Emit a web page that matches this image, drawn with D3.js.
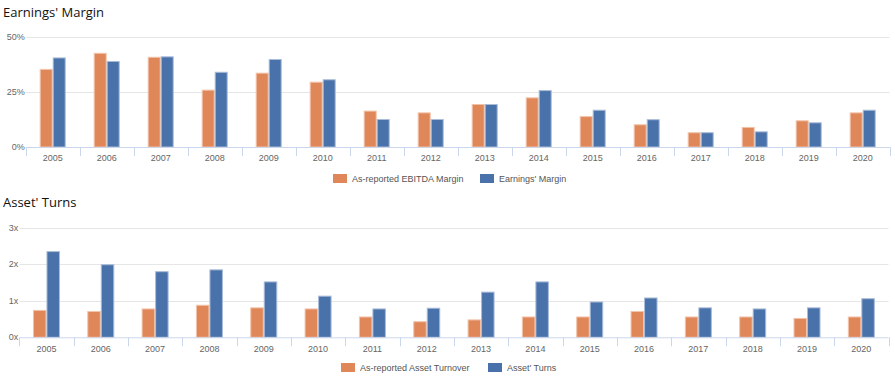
<!DOCTYPE html>
<html>
<head>
<meta charset="utf-8">
<script src="https://cdn.jsdelivr.net/npm/d3@7"></script>
<style>
  html, body { margin: 0; padding: 0; background: #fff; }
  svg { display: block; }
  .title { font-family: "Open Sans", "Noto Sans", sans-serif; font-size: 13px; fill: #111; }
  .lbl { font-family: "Liberation Sans", Arial, sans-serif; font-size: 9px; fill: #666; }
  .leg { font-family: "Liberation Sans", Arial, sans-serif; font-size: 9px; fill: #555; }
</style>
</head>
<body>
<svg id="chart" width="895" height="381"></svg>
<script>
const years = ["2005","2006","2007","2008","2009","2010","2011","2012","2013","2014","2015","2016","2017","2018","2019","2020"];

const marginSeries = ["As-reported EBITDA Margin", "Earnings' Margin"];
const ebitdaMargin = [35.4, 42.7, 40.9, 26.0, 33.7, 29.6, 16.5, 15.7, 19.5, 22.5, 14.0, 10.3, 6.7, 9.1, 12.1, 15.7];
const earningsMargin = [40.6, 39.0, 41.1, 34.1, 39.9, 30.7, 12.7, 12.7, 19.5, 25.8, 16.9, 12.6, 6.7, 7.1, 11.2, 16.9];
const marginTicks = [0, 25, 50];

const turnsSeries = ["As-reported Asset Turnover", "Asset' Turns"];
const assetTurnover = [0.75, 0.72, 0.79, 0.89, 0.82, 0.79, 0.57, 0.44, 0.49, 0.57, 0.57, 0.72, 0.57, 0.57, 0.53, 0.57];
const assetTurns = [2.36, 2.00, 1.81, 1.86, 1.53, 1.14, 0.79, 0.81, 1.25, 1.53, 0.98, 1.09, 0.82, 0.79, 0.82, 1.07];
const turnsTicks = [0, 1, 2, 3];

const colors = ["#e0875a", "#4a72aa"];
const strokes = ["#f2c3a8", "#a9bcd8"];

const svg = d3.select("#chart");

function drawChart(cfg) {
  const g = svg.append("g");
  g.append("text").attr("class", "title").attr("x", 3).attr("y", cfg.titleY).text(cfg.title);

  const x = d3.scaleBand().domain(years).range([cfg.left, cfg.right]).paddingInner(0).paddingOuter(0);
  const y = d3.scaleLinear().domain([0, cfg.max]).range([cfg.bottom, cfg.top]);
  const inner = d3.scaleBand().domain([0, 1]).range([0, cfg.barW * 2]);

  // gridlines
  g.append("g").selectAll("line").data(cfg.ticks.filter(t => t > 0)).join("line")
    .attr("x1", cfg.left).attr("x2", cfg.right)
    .attr("y1", d => Math.round(y(d)) + 0.5).attr("y2", d => Math.round(y(d)) + 0.5)
    .attr("stroke", "#e6e6e6").attr("stroke-width", 1);

  // y labels
  g.append("g").selectAll("text").data(cfg.ticks).join("text")
    .attr("class", "lbl")
    .attr("x", cfg.left - 1).attr("y", d => y(d) + 3)
    .attr("text-anchor", "end").text(cfg.fmt);

  // bars
  const data = years.map((yr, i) => ({ yr, vals: [cfg.s0[i], cfg.s1[i]] }));
  const grp = g.append("g").selectAll("g").data(data).join("g")
    .attr("transform", d => `translate(${x(d.yr) + x.bandwidth() / 2 - cfg.barW},0)`);
  grp.selectAll("rect").data(d => d.vals.map((v, k) => ({ v, k }))).join("rect")
    .attr("x", d => inner(d.k) + 0.5)
    .attr("width", inner.bandwidth() - 1)
    .attr("y", d => y(d.v) + 0.5)
    .attr("height", d => Math.max(0, y(0) - y(d.v) - 0.5))
    .attr("fill", d => colors[d.k])
    .attr("stroke", d => strokes[d.k]).attr("stroke-width", 1);

  // x axis
  const ax = d3.axisBottom(x).tickSize(0).tickPadding(0);
  const axG = g.append("g").attr("transform", `translate(0,${cfg.bottom})`).call(ax);
  axG.select(".domain").attr("stroke", "#ccd6eb").attr("d", `M${cfg.left},0.5H${cfg.right}`);
  axG.selectAll(".tick text").attr("class", "lbl").attr("dy", null).attr("y", cfg.xLabelDy)
    .style("font-family", null).style("font-size", null);
  axG.attr("font-family", null).attr("font-size", null);
  const bounds = years.map(yr => x(yr)).concat([cfg.right]);
  axG.append("g").selectAll("line").data(bounds).join("line")
    .attr("x1", d => Math.round(d) + 0.5).attr("x2", d => Math.round(d) + 0.5)
    .attr("y1", 0).attr("y2", 9).attr("stroke", "#ccd6eb");

  // legend
  const lg = g.append("g").attr("transform", `translate(0,${cfg.legY})`);
  cfg.series.forEach((s, k) => {
    lg.append("rect").attr("x", cfg.legX[k]).attr("y", -5).attr("width", 14).attr("height", 9)
      .attr("fill", colors[k]);
    lg.append("text").attr("class", "leg").attr("x", cfg.legX[k] + 19).attr("y", 3).text(s);
  });
}

drawChart({
  title: "Earnings' Margin", titleY: 17,
  left: 25.7, right: 889.7, top: 36.7, bottom: 147, max: 50,
  ticks: marginTicks, fmt: d => d + "%",
  s0: ebitdaMargin, s1: earningsMargin, barW: 13,
  xLabelDy: 14, series: marginSeries, legY: 179, legX: [333, 480]
});

drawChart({
  title: "Asset' Turns", titleY: 207,
  left: 19.3, right: 888.5, top: 227.7, bottom: 337.3, max: 3,
  ticks: turnsTicks, fmt: d => d + "x",
  s0: assetTurnover, s1: assetTurns, barW: 13.5,
  xLabelDy: 15, series: turnsSeries, legY: 368, legX: [341, 488]
});
</script>
</body>
</html>
